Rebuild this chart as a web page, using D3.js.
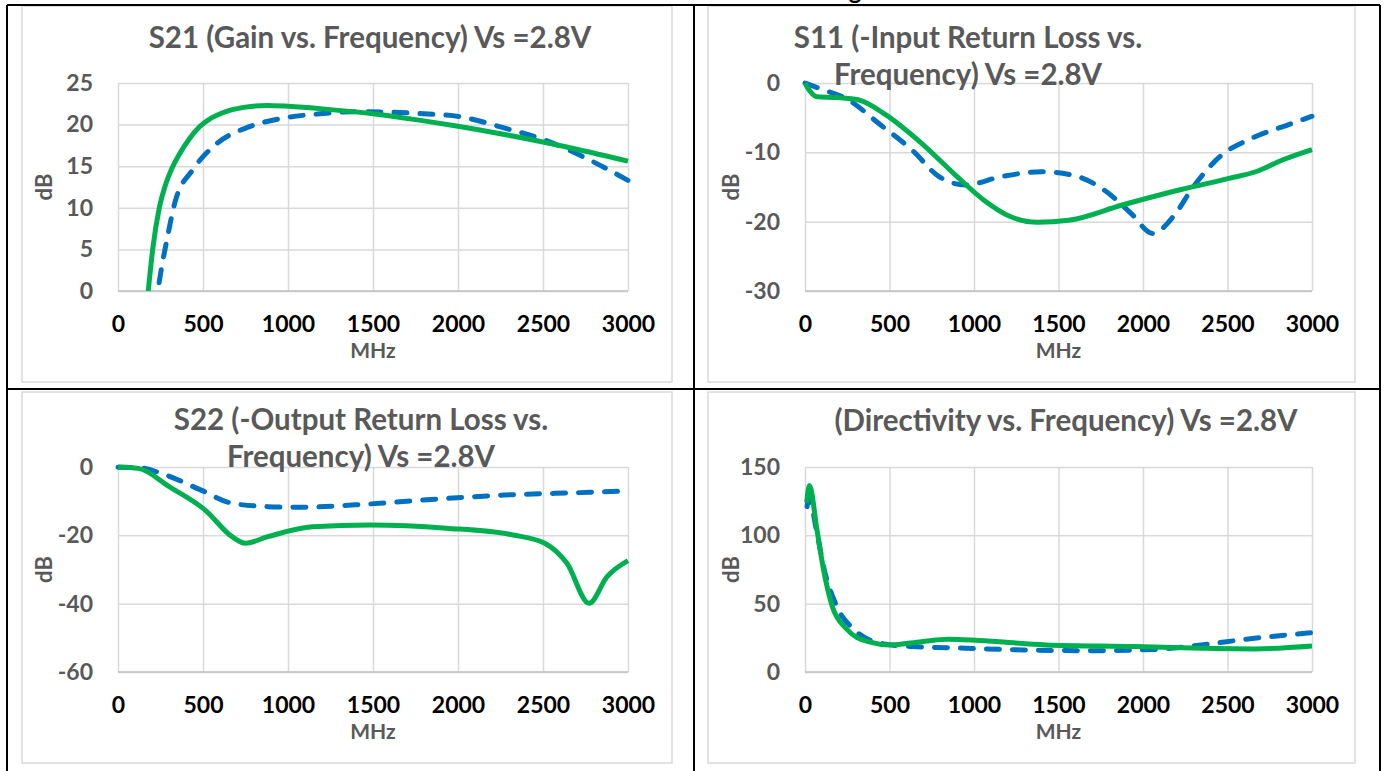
<!DOCTYPE html>
<head>
    <meta charset="utf-8">
    <title>Swept frequency plots, Vs = 2.8V</title>
    <style>
        body { margin: 0; background: #fff; }
        svg { display: block; font-family: Lato, "Open Sans", sans-serif; }
    </style>
</head>

<body>

    <svg width="1385" height="771"></svg>

    <script src="https://d3js.org/d3.v7.min.js"></script>

    <script>

        // tick values
        var freqTicks = [0, 500, 1000, 1500, 2000, 2500, 3000];
        var s21Ticks = [0, 5, 10, 15, 20, 25];
        var s11Ticks = [-30, -20, -10, 0];
        var s22Ticks = [-60, -40, -20, 0];
        var dirTicks = [0, 50, 100, 150];

        // titles (one entry per line)
        var s21Title = ["S21 (Gain vs. Frequency) Vs =2.8V"];
        var s11Title = ["S11 (-Input Return Loss vs.", "Frequency) Vs =2.8V"];
        var s22Title = ["S22 (-Output Return Loss vs.", "Frequency) Vs =2.8V"];
        var dirTitle = ["(Directivity vs. Frequency) Vs =2.8V"];

        // [MHz, dB]
        var s21Solid = [[178, 0], [204, 5], [243, 10], [280, 12.8], [316, 14.7], [360, 16.4], [420, 18.3],
            [478, 19.7], [550, 20.8], [639, 21.6], [750, 22.1], [875, 22.3], [1000, 22.2], [1250, 21.8],
            [1500, 21.3], [1750, 20.6], [2000, 19.8], [2250, 18.9], [2500, 17.9], [2750, 16.8], [3000, 15.6]];
        var s21Dashed = [[242, 1.0], [253, 2.4], [290, 6.4], [337, 10.8], [441, 14.6], [580, 17.7],
            [774, 19.75], [966, 20.75], [1188, 21.3], [1400, 21.55], [1600, 21.5], [1800, 21.3], [2012, 20.95],
            [2271, 19.6], [2509, 18.15], [2798, 15.5], [3000, 13.3]];

        var s11Solid = [[0, 0], [30, -1.2], [71, -2], [189, -2.1], [319, -2.45], [479, -4.6], [690, -8.7],
            [900, -13.5], [1059, -16.9], [1218, -19.3], [1373, -20.1], [1560, -19.8], [1877, -17.6],
            [2219, -15.4], [2509, -13.75], [2667, -12.8], [2825, -11.1], [3000, -9.6]];
        var s11Dashed = [[0, 0], [110, -1], [240, -2.2], [450, -6.1], [635, -9.7], [793, -13.5], [951, -14.7],
            [1163, -13.5], [1400, -12.8], [1585, -13.3], [1768, -15.4], [1929, -18.8], [2058, -21.7],
            [2178, -19.3], [2297, -15], [2456, -10.6], [2640, -8], [2851, -6.1], [3000, -4.8]];

        var s22Solid = [[0, 0], [120, -0.4], [303, -5.8], [513, -12.6], [671, -20.4], [750, -22.3], [881, -20.4],
            [1144, -17.5], [1485, -17.0], [1931, -17.9], [2324, -19.9], [2510, -22.3], [2641, -28.2],
            [2771, -39.9], [2877, -32.1], [3000, -27.4]];
        var s22Dashed = [[0, -0.1], [120, -0.2], [278, -2.3], [486, -6.7], [671, -10.6], [881, -11.6],
            [1039, -11.8], [1485, -10.8], [1931, -9.2], [2274, -8.2], [2720, -7.5], [3000, -7.0]];

        var dirSolid = [[10, 124], [26, 136.5], [71, 103.9], [110, 74.6], [162, 47.8], [242, 32], [373, 22.2],
            [504, 19.8], [689, 22.2], [847, 24], [1031, 23], [1426, 19.8], [1951, 18.6], [2346, 17.4],
            [2663, 16.9], [3000, 19]];
        var dirDashed = [[12, 121], [22, 127], [71, 101.7], [110, 77], [189, 47.8], [294, 30.7], [450, 21],
            [636, 18.6], [951, 17.4], [1295, 16.1], [1692, 15.6], [2083, 16.6], [2346, 19.8], [2610, 24],
            [3000, 28.8]];

        var panels = [
            { title: s21Title, tx: 370, ty: 48, box: [22, 6, 672, 382], plot: [118, 83, 628, 291],
              yTicks: s21Ticks, solid: s21Solid, dashed: s21Dashed },
            { title: s11Title, tx: 968, ty: 48, box: [708, 6, 1355, 382], plot: [805, 83, 1312, 291],
              yTicks: s11Ticks, solid: s11Solid, dashed: s11Dashed },
            { title: s22Title, tx: 361, ty: 430, box: [22, 392, 672, 763], plot: [118, 467, 628, 672],
              yTicks: s22Ticks, solid: s22Solid, dashed: s22Dashed },
            { title: dirTitle, tx: 1066, ty: 431, box: [708, 392, 1355, 763], plot: [805, 467, 1312, 672],
              yTicks: dirTicks, solid: dirSolid, dashed: dirDashed }
        ];

        var svg = d3.select("svg");
        var grey = "#595959";
        var plain = function (d) { return String(d); };   // keep ASCII hyphen, no thousands comma

        // heading above the table, cut off by the page edge in the source
        svg.append("text").attr("x", 855).attr("y", -1).attr("text-anchor", "middle")
            .attr("font-size", 24).attr("font-weight", "bold").attr("fill", "#000").text("g");

        panels.forEach(function (p) {
            var g = svg.append("g");

            g.append("rect")
                .attr("x", p.box[0]).attr("y", p.box[1])
                .attr("width", p.box[2] - p.box[0]).attr("height", p.box[3] - p.box[1])
                .attr("fill", "#fff").attr("stroke", "#d9d9d9").attr("stroke-width", 1.5);

            var x = d3.scaleLinear().domain([0, 3000]).range([p.plot[0], p.plot[2]]);
            var y = d3.scaleLinear().domain(d3.extent(p.yTicks)).range([p.plot[3], p.plot[1]]);
            var w = p.plot[2] - p.plot[0], h = p.plot[3] - p.plot[1];

            var yAxis = g.append("g")
                .attr("transform", "translate(" + p.plot[0] + ",0)")
                .call(d3.axisLeft(y).tickValues(p.yTicks).tickFormat(plain).tickSize(-w).tickPadding(25));

            var xAxis = g.append("g")
                .attr("transform", "translate(0," + p.plot[3] + ")")
                .call(d3.axisBottom(x).tickValues(freqTicks).tickFormat(plain).tickSize(-h).tickPadding(25));

            [yAxis, xAxis].forEach(function (a) {
                a.select(".domain").remove();
                a.attr("font-family", null).attr("font-size", 23).attr("font-weight", "bold");
                a.selectAll(".tick line").attr("stroke", "#d9d9d9").attr("stroke-width", 1.5);
            });
            yAxis.selectAll("text").attr("fill", grey);
            xAxis.selectAll("text").attr("fill", "#000");

            // bottom axis line
            g.append("line")
                .attr("x1", p.plot[0]).attr("x2", p.plot[2])
                .attr("y1", p.plot[3]).attr("y2", p.plot[3])
                .attr("stroke", "#bfbfbf").attr("stroke-width", 1.5);

            var line = d3.line()
                .x(function (d) { return x(d[0]); })
                .y(function (d) { return y(d[1]); })
                .curve(d3.curveMonotoneX);

            g.append("path").datum(p.dashed)
                .attr("d", line).attr("fill", "none")
                .attr("stroke", "#0070c0").attr("stroke-width", 5)
                .attr("stroke-dasharray", "13,13").attr("stroke-linecap", "round");

            g.append("path").datum(p.solid)
                .attr("d", line).attr("fill", "none")
                .attr("stroke", "#00b050").attr("stroke-width", 5)
                .attr("stroke-linejoin", "round");

            // titles and axis titles
            g.selectAll(".title").data(p.title).enter().append("text")
                .attr("class", "title")
                .attr("x", p.tx).attr("y", function (d, i) { return p.ty + i * 37; })
                .attr("text-anchor", "middle").attr("font-size", 29.5).attr("font-weight", "bold")
                .attr("fill", grey).text(function (d) { return d; });

            g.append("text")
                .attr("x", (p.plot[0] + p.plot[2]) / 2).attr("y", p.plot[3] + 67)
                .attr("text-anchor", "middle").attr("font-size", 21).attr("font-weight", "bold")
                .attr("fill", grey).text("MHz");

            g.append("text")
                .attr("transform", "translate(" + (p.plot[0] - 66) + "," + (p.plot[1] + h / 2) + ") rotate(-90)")
                .attr("text-anchor", "middle").attr("font-size", 22).attr("font-weight", "bold")
                .attr("fill", grey).text("dB");
        });

        // table rules
        var rules = [[7, 5, 1380, 5], [7, 5, 7, 771], [1380, 5, 1380, 771], [694, 5, 694, 771], [7, 389, 1380, 389]];
        svg.selectAll(".rule").data(rules).enter().append("line")
            .attr("class", "rule")
            .attr("x1", function (d) { return d[0]; }).attr("y1", function (d) { return d[1]; })
            .attr("x2", function (d) { return d[2]; }).attr("y2", function (d) { return d[3]; })
            .attr("stroke", "#000").attr("stroke-width", 2);

    </script>
</body>
